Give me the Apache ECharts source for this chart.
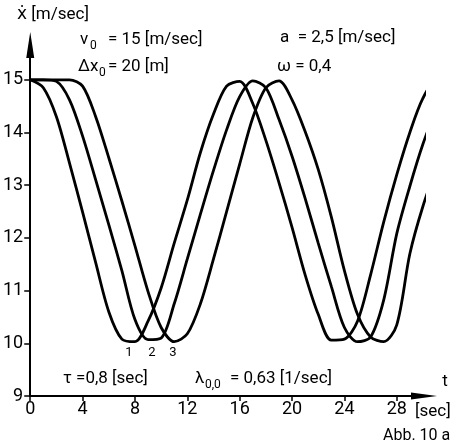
<!DOCTYPE html>
<html>
<head>
<meta charset="utf-8">
<script src="https://cdn.jsdelivr.net/npm/echarts@6/dist/echarts.min.js"></script>
<style>
  html, body { margin: 0; padding: 0; background: #fff; }
  #chart { width: 457px; height: 446px; }
</style>
</head>
<body>
<div id="chart"></div>
<script>
// time [sec] of the sampled points
var times = [0, 1, 2, 3, 4, 5, 6, 7, 8, 9, 10, 11, 12, 13, 14, 15, 16, 17, 18, 19, 20,
             21, 22, 23, 24, 25, 26, 27, 28, 29, 30, 31, 31.8];
// speed of car 1 (leader) [m/sec]
var car1 = [15.00, 14.85, 14.30, 13.42, 12.49, 11.53, 10.60, 10.08, 10.03, 10.42, 11.05,
            11.90, 12.72, 13.62, 14.35, 14.88, 14.97, 14.55, 13.85, 13.05, 12.20,
            11.30, 10.55, 10.06, 10.08, 10.42, 11.30, 12.30, 13.20, 14.00, 14.65, 14.98, 14.90];
// car 2
var car2 = [15.00, 15.00, 14.97, 14.62, 13.93, 13.10, 12.25, 11.38, 10.45, 10.07, 10.10,
            10.75, 11.60, 12.45, 13.28, 14.05, 14.68, 14.98, 14.85, 14.25, 13.55,
            12.75, 11.90, 11.08, 10.30, 10.03, 10.12, 10.82, 12.08, 12.98, 13.78, 14.42, 14.78];
// car 3
var car3 = [15.00, 15.00, 15.00, 15.00, 14.88, 14.30, 13.52, 12.70, 11.85, 10.98, 10.30,
            10.03, 10.18, 10.75, 11.60, 12.50, 13.40, 14.28, 14.85, 14.98, 14.62,
            14.02, 13.30, 12.40, 11.38, 10.55, 10.12, 10.03, 10.35, 11.70, 12.60, 13.30, 13.76];
var xTicks = [0, 4, 8, 12, 16, 20, 24, 28];
var yTicks = [9, 10, 11, 12, 13, 14, 15];

function pairs(vals) {
    return times.map(function (t, i) { return [t, vals[i]]; });
}

var FONT = 'Roboto, "DejaVu Sans", sans-serif';

function txt(x, y, s, size, align) {
    return {
        type: 'text', x: x, y: y, silent: true,
        style: {
            text: s, fill: '#000', fontSize: size || 17, fontFamily: FONT,
            align: align || 'left', verticalAlign: 'middle'
        }
    };
}

function curve(vals) {
    return {
        type: 'line',
        data: pairs(vals),
        showSymbol: false,
        smooth: 0.3,
        clip: false,
        lineStyle: { color: '#000', width: 2.8 }
    };
}

var chart = echarts.init(document.getElementById('chart'));
chart.setOption({
    animation: false,
    grid: { left: 27, right: 33, top: 45, bottom: 50 },
    xAxis: {
        type: 'value',
        min: 0,
        max: 30.08,
        interval: 4,
        splitLine: { show: false },
        axisLine: {
            onZero: false,
            lineStyle: { color: '#000', width: 2 },
            symbol: ['none', 'triangle'],
            symbolSize: [7, 26]
        },
        axisTick: { customValues: xTicks, length: 5, lineStyle: { color: '#000', width: 1.5 } },
        axisLabel: { customValues: xTicks, color: '#000', fontSize: 18, fontFamily: FONT, margin: 4 }
    },
    yAxis: {
        type: 'value',
        min: 9,
        max: 15.66,
        interval: 1,
        splitLine: { show: false },
        axisLine: {
            show: true,
            onZero: false,
            lineStyle: { color: '#000', width: 2 },
            symbol: ['none', 'triangle'],
            symbolSize: [8, 26]
        },
        axisTick: { show: true, customValues: yTicks, length: 6, lineStyle: { color: '#000', width: 1.5 } },
        axisLabel: { customValues: yTicks, color: '#000', fontSize: 18, fontFamily: FONT, margin: 7 }
    },
    series: [curve(car1), curve(car2), curve(car3)],
    graphic: [
        txt(17, 15, 'ẋ [m/sec]'),
        txt(80, 40, 'v'), txt(90, 46, '0', 12), txt(108, 40, '= 15 [m/sec]'),
        txt(78, 67, 'Δx'), txt(99, 73, '0', 12), txt(108, 67, '= 20 [m]'),
        txt(280, 38, 'a  = 2,5 [m/sec]'),
        txt(277, 67, 'ω = 0,4'),
        txt(63, 379, 'τ =0,8 [sec]'),
        txt(195, 379, 'λ'), txt(205, 385, '0,0', 12), txt(230, 379, '= 0,63 [1/sec]'),
        txt(129, 353, '1', 13, 'center'), txt(152, 353, '2', 13, 'center'), txt(173, 353, '3', 13, 'center'),
        txt(445, 382, 't', 17, 'center'),
        txt(415, 412, '[sec]'),
        txt(383, 436, 'Abb. 10 a', 16)
    ]
});
</script>
</body>
</html>
